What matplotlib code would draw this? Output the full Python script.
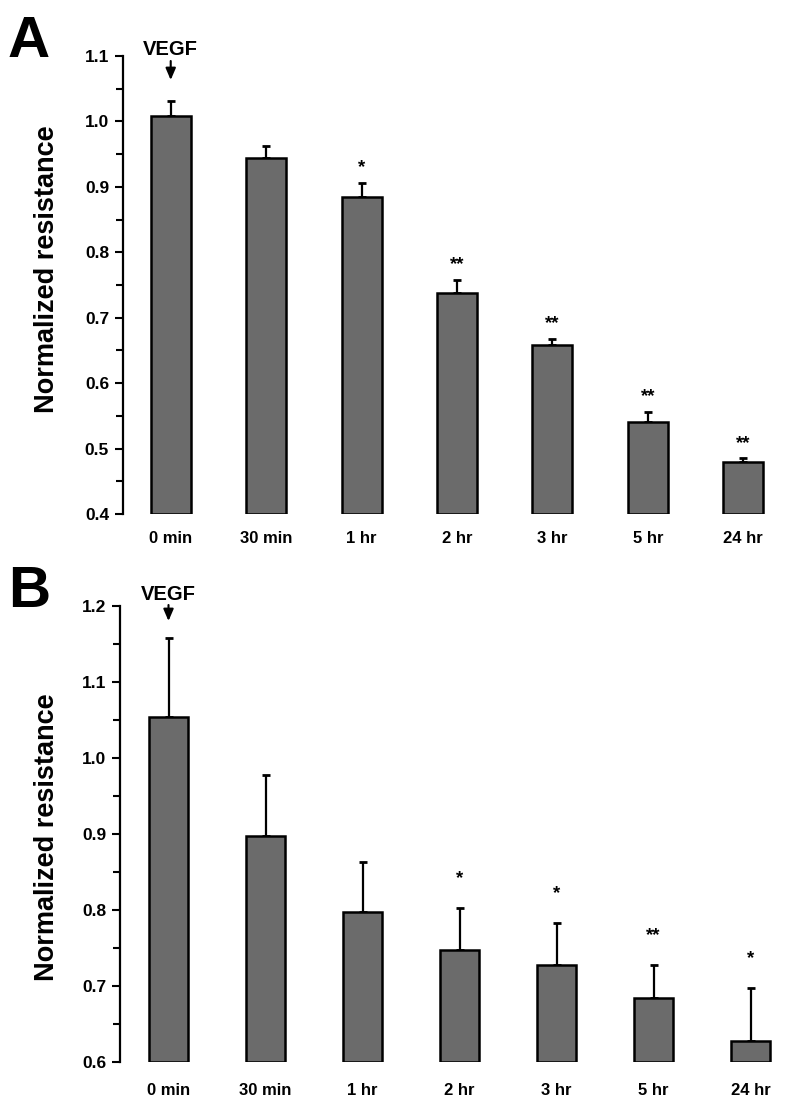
import matplotlib
matplotlib.use("Agg")
import matplotlib.pyplot as plt
import numpy as np

plt.rcParams["font.family"] = ["Liberation Sans", "DejaVu Sans"]
plt.rcParams["font.weight"] = "bold"

LABELS = ["0 min", "30 min", "1 hr", "2 hr", "3 hr", "5 hr", "24 hr"]

# panel A: mean, SEM (upper only), significance
A_MEAN = [1.008, 0.944, 0.885, 0.738, 0.659, 0.541, 0.480]
A_ERR = [0.023, 0.019, 0.021, 0.020, 0.008, 0.015, 0.005]
A_STARS = ["", "", "*", "**", "**", "**", "**"]

# panel B
B_MEAN = [1.054, 0.898, 0.797, 0.748, 0.727, 0.684, 0.627]
B_ERR = [0.104, 0.080, 0.066, 0.055, 0.056, 0.044, 0.071]
B_STARS = ["", "", "", "*", "*", "**", "*"]

W, H = 800, 1112
fig = plt.figure(figsize=(W / 100, H / 100), dpi=100)


def px_axes(left, top, right, bottom):
    return fig.add_axes([left / W, 1 - bottom / H, (right - left) / W, (bottom - top) / H])


def panel(ax, means, errs, stars, ylim, star_off, width, label_xy, xpad):
    x = np.arange(len(LABELS))
    ax.bar(x, np.array(means) - ylim[0], bottom=ylim[0], width=width,
           color="#6b6b6b", edgecolor="black", linewidth=1.8, zorder=3)
    ax.errorbar(x, means, yerr=[np.zeros(len(errs)), errs], fmt="none",
                ecolor="black", elinewidth=1.6, capsize=3, capthick=2, zorder=2)
    for xi, m, e, s in zip(x, means, errs, stars):
        if s:
            ax.annotate(s, (xi, m + e), xytext=(0, star_off), textcoords="offset points",
                        ha="center", va="center", fontsize=13.5, fontweight="bold")
    ax.set_ylim(*ylim)
    ax.set_xlim(-0.5, 6.5)
    ax.set_yticks(np.arange(ylim[0], ylim[1] + 0.001, 0.1))
    ax.set_yticks(np.arange(ylim[0], ylim[1] + 0.001, 0.05), minor=True)
    ax.yaxis.set_major_formatter(plt.FormatStrFormatter("%.1f"))
    ax.set_xticks(x, LABELS)
    ax.tick_params(axis="x", length=0, pad=xpad, labelsize=12)
    ax.tick_params(axis="y", which="major", length=6, width=1.5, labelsize=12.5, pad=4)
    ax.tick_params(axis="y", which="minor", length=5, width=1.5)
    for lbl in ax.get_xticklabels() + ax.get_yticklabels():
        lbl.set_fontweight("bold")
    for sp in ["top", "right", "bottom"]:
        ax.spines[sp].set_visible(False)
    ax.spines["left"].set_linewidth(1.6)
    ax.set_ylabel("Normalized resistance", fontsize=19.5, fontweight="bold")
    ax.yaxis.set_label_coords(*label_xy)


axA = px_axes(123, 56, 791, 514)
panel(axA, A_MEAN, A_ERR, A_STARS, (0.4, 1.1), 11, 0.42, (-0.094, 0.535), 12)
axB = px_axes(120, 606, 799, 1062)
panel(axB, B_MEAN, B_ERR, B_STARS, (0.6, 1.2), 21, 0.41, (-0.088, 0.494), 15)

# VEGF marker with arrow above the first bar
for ax, base, y0, y1 in [(axA, 55, 61, 80), (axB, 600, 605, 621)]:
    xd = ax.transData.transform((0, 0))[0] / W
    fig.text(xd, 1 - base / H, "VEGF", ha="center", va="baseline",
             fontsize=14.5, fontweight="bold")
    fig.add_artist(matplotlib.patches.FancyArrowPatch(
        (xd, 1 - y0 / H), (xd, 1 - y1 / H), transform=fig.transFigure,
        arrowstyle="-|>,head_length=0.7,head_width=0.3", lw=1.5, color="black",
        mutation_scale=10, shrinkA=0, shrinkB=0))

fig.text(8 / W, 1 - 57 / H, "A", fontsize=42, fontweight="bold", va="baseline")
fig.text(8 / W, 1 - 607 / H, "B", fontsize=42, fontweight="bold", va="baseline")

fig.savefig("out.png", dpi=100)
